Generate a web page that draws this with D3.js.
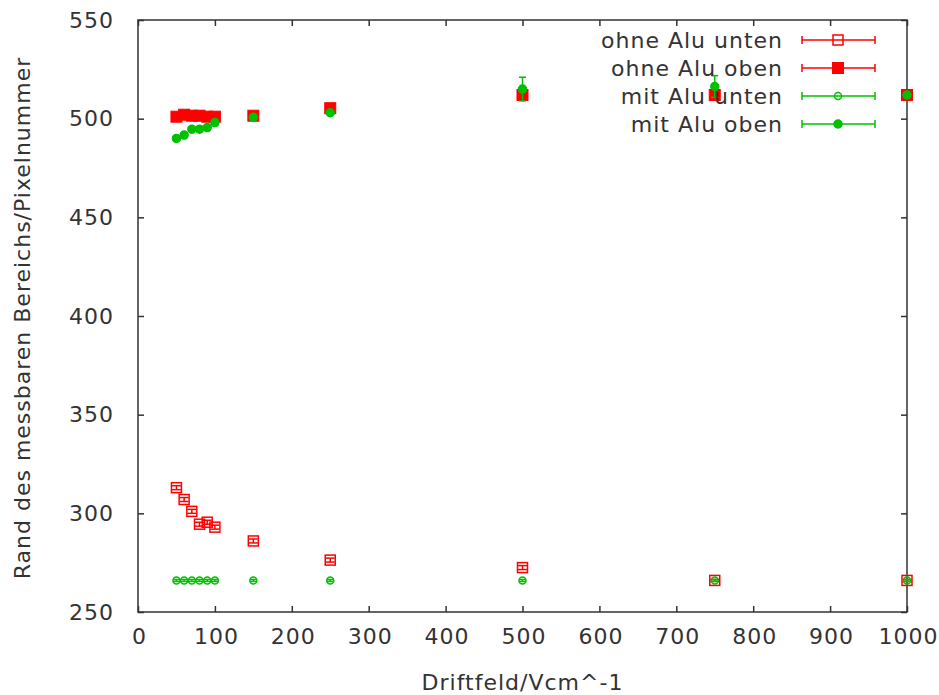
<!DOCTYPE html>
<html>
<head>
<meta charset="utf-8">
<script src="https://cdn.jsdelivr.net/npm/d3@7"></script>
<style>
body { margin:0; background:#fff; }
text { font-family: "DejaVu Sans", sans-serif; fill:#333; letter-spacing:1px; }
</style>
</head>
<body>
<svg id="chart"></svg>
<script>
// ---------- data ----------
var xVals        = [50, 60, 70, 80, 90, 100, 150, 250, 500, 750, 1000];
var ohneUnten    = [313, 307, 301, 294.5, 295.5, 293, 286, 276.3, 272.5, 266, 266];
var ohneUntenErr = [1, 1, 1, 1, 1, 1, 1, 1, 1, 0.5, 0.5];
var ohneOben     = [501, 502, 501.5, 501.5, 501, 501, 501.5, 505.3, 512, 512, 512];
var ohneObenErr  = [1, 1, 1, 1, 1, 1, 1, 1, 1, 1, 1];
var mitUnten     = [266, 266, 266, 266, 266, 266, 266, 266, 266, 266, 266];
var mitUntenErr  = [0.5, 0.5, 0.5, 0.5, 0.5, 0.5, 0.5, 0.5, 0.5, 0.5, 0.5];
var mitOben      = [490, 491.7, 494.7, 494.7, 495.5, 498, 500.7, 503, 515, 516.3, 512];
var mitObenErr   = [1, 1, 1, 1, 1, 1, 1, 1, 6, 5.5, 0.5];
var xTicks = [0, 100, 200, 300, 400, 500, 600, 700, 800, 900, 1000];
var yTicks = [250, 300, 350, 400, 450, 500, 550];

var series = [
	{name:"ohne Alu unten", y:ohneUnten, err:ohneUntenErr, color:"#ff0000", shape:"square", fill:false},
	{name:"ohne Alu oben",  y:ohneOben,  err:ohneObenErr,  color:"#ff0000", shape:"square", fill:true},
	{name:"mit Alu unten",  y:mitUnten,  err:mitUntenErr,  color:"#00c000", shape:"circle", fill:false},
	{name:"mit Alu oben",   y:mitOben,   err:mitObenErr,   color:"#00c000", shape:"circle", fill:true}
];

//----------setup----------
var screen = {width:939, height:695}
var margins = {left:138, right:32, top:20, bottom:83}
var graph = {
	width: screen.width - margins.left - margins.right,
	height: screen.height - margins.top - margins.bottom
}

var svg = d3.select("#chart")
	.attr("width", screen.width)
	.attr("height", screen.height)

var xScale = d3.scaleLinear().domain([0,1000]).range([0,graph.width])
var yScale = d3.scaleLinear().domain([250,550]).range([graph.height,0])

var target = svg.append("g")
	.attr("transform", "translate(" + margins.left + "," + margins.top + ")")

//----------axes----------
var styleAxis = function(g)
{
	g.select(".domain").remove()
	g.selectAll(".tick line").attr("stroke","#333").attr("stroke-width",1.5)
	g.selectAll("text").style("font-size","22px").style("font-family","DejaVu Sans").attr("fill","#333")
}

target.append("g")
	.attr("transform","translate(0," + graph.height + ")")
	.call(d3.axisBottom(xScale).tickValues(xTicks).tickSize(-6).tickPadding(16).tickFormat(d3.format("d")))
	.call(styleAxis)
	.selectAll(".tick text").attr("dx", 1)
target.append("g")
	.call(d3.axisTop(xScale).tickValues(xTicks).tickSize(-6).tickFormat(""))
	.call(styleAxis)
target.append("g")
	.call(d3.axisLeft(yScale).tickValues(yTicks).tickSize(-6).tickPadding(24).tickFormat(d3.format("d")))
	.call(styleAxis)
target.append("g")
	.attr("transform","translate(" + graph.width + ",0)")
	.call(d3.axisRight(yScale).tickValues(yTicks).tickSize(-6).tickFormat(""))
	.call(styleAxis)

target.append("rect")
	.attr("width", graph.width)
	.attr("height", graph.height)
	.attr("fill","none")
	.attr("stroke","#333")
	.attr("stroke-width",1.5)

//----------points----------
var drawMarker = function(g, s, cx, cy)
{
	if (s.shape == "square")
	{
		var h = s.fill ? 5.5 : 5
		g.append("rect")
			.attr("x", cx-h).attr("y", cy-h)
			.attr("width", 2*h).attr("height", 2*h)
			.attr("fill", s.fill ? s.color : "none")
			.attr("stroke", s.color).attr("stroke-width", s.fill ? 1 : 1.5)
	}
	else
	{
		g.append("circle")
			.attr("cx", cx).attr("cy", cy)
			.attr("r", s.fill ? 4 : 3.5)
			.attr("fill", s.fill ? s.color : "none")
			.attr("stroke", s.color).attr("stroke-width", 1.5)
	}
}

series.forEach(function(s)
{
	var g = target.append("g")
	xVals.forEach(function(xv, i)
	{
		var cx = xScale(xv)
		var cy = yScale(s.y[i])
		var top = yScale(s.y[i] + s.err[i])
		var bot = yScale(s.y[i] - s.err[i])
		var cap = s.shape == "square" ? 4.5 : 3.5
		g.append("line").attr("x1",cx).attr("x2",cx).attr("y1",top).attr("y2",bot)
			.attr("stroke",s.color).attr("stroke-width",1.5)
		g.append("line").attr("x1",cx-cap).attr("x2",cx+cap).attr("y1",top).attr("y2",top)
			.attr("stroke",s.color).attr("stroke-width",1.5)
		g.append("line").attr("x1",cx-cap).attr("x2",cx+cap).attr("y1",bot).attr("y2",bot)
			.attr("stroke",s.color).attr("stroke-width",1.5)
		drawMarker(g, s, cx, cy)
	})
})

//----------legend----------
var legend = svg.append("g")
series.forEach(function(s, i)
{
	var ly = 40 + i*28
	var lg = legend.append("g")
	lg.append("text")
		.attr("x", 783).attr("y", ly)
		.attr("dy","0.35em")
		.attr("text-anchor","end")
		.style("font-size","22px")
		.text(s.name)
	lg.append("line").attr("x1",802).attr("x2",875).attr("y1",ly).attr("y2",ly)
		.attr("stroke",s.color).attr("stroke-width",1.5)
	lg.append("line").attr("x1",802).attr("x2",802).attr("y1",ly-4).attr("y2",ly+4)
		.attr("stroke",s.color).attr("stroke-width",1.5)
	lg.append("line").attr("x1",875).attr("x2",875).attr("y1",ly-4).attr("y2",ly+4)
		.attr("stroke",s.color).attr("stroke-width",1.5)
	drawMarker(lg, s, 838, ly)
})

//----------labels----------
svg.append("text")
	.attr("x", margins.left + graph.width/2)
	.attr("y", 690)
	.attr("text-anchor","middle")
	.style("font-size","22px")
	.text("Driftfeld/Vcm^-1")

svg.append("text")
	.attr("transform","translate(30," + (margins.top + graph.height/2 + 2) + ") rotate(-90)")
	.attr("text-anchor","middle")
	.style("font-size","22px")
	.text("Rand des messbaren Bereichs/Pixelnummer")
</script>
</body>
</html>
